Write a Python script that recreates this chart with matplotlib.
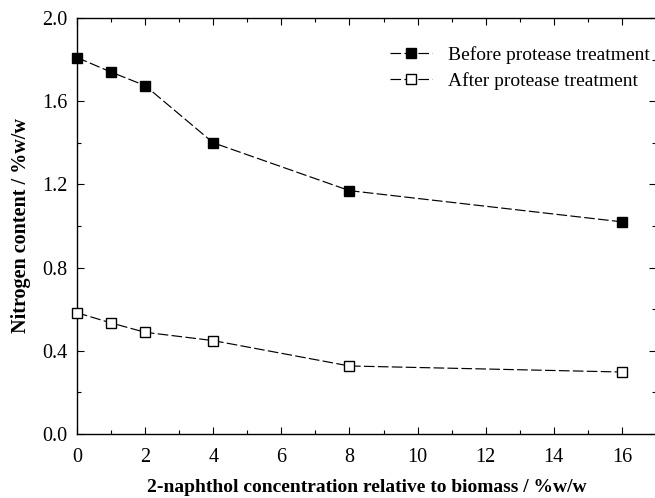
import matplotlib
matplotlib.use("Agg")
import matplotlib.pyplot as plt
from matplotlib.ticker import MultipleLocator

plt.rcParams['font.family'] = ['Liberation Serif', 'DejaVu Serif']

conc = [0, 1, 2, 4, 8, 16]
before = [1.81, 1.74, 1.675, 1.40, 1.17, 1.02]
after = [0.583, 0.534, 0.489, 0.449, 0.327, 0.298]
xticks = [0, 2, 4, 6, 8, 10, 12, 14, 16]
yticks = [0.0, 0.4, 0.8, 1.2, 1.6, 2.0]

fig = plt.figure(figsize=(6.55, 4.98), dpi=100)
ax = fig.add_axes([77/655, 1-434/498, (656-77)/655, (434-18)/498])

ax.plot(conc, before, linestyle=(0, (9, 2.8)), color='black', lw=0.85,
        marker='s', markersize=7.5, markerfacecolor='black', markeredgecolor='black',
        label='Before protease treatment', clip_on=False, zorder=3)
ax.plot(conc, after, linestyle=(0, (9, 2.8)), color='black', lw=0.85,
        marker='s', markersize=6.5, markerfacecolor='white', markeredgecolor='black',
        markeredgewidth=1.0, label='After protease treatment', clip_on=False, zorder=3)

ax.set_xlim(0, 17)
ax.set_ylim(0, 2.0)
ax.set_xticks(xticks)
ax.set_xticklabels([str(v) for v in xticks])
ax.set_yticks(yticks)
ax.set_yticklabels([f"{v:.1f}" for v in yticks])
ax.xaxis.set_minor_locator(MultipleLocator(1))
ax.yaxis.set_minor_locator(MultipleLocator(0.2))
ax.tick_params(which='both', direction='in', top=True, right=True, labelsize=14.5)
ax.tick_params(axis='x', which='both', pad=10)
ax.tick_params(axis='y', which='both', pad=7)
ax.tick_params(which='major', length=5, width=0.8)
ax.tick_params(which='minor', length=3, width=0.8)
for s in ax.spines.values():
    s.set_linewidth(1.0)

ax.set_xlabel('2-naphthol concentration relative to biomass / %w/w', fontsize=14, fontweight='bold', labelpad=9)
ax.set_ylabel('Nitrogen content / %w/w', fontsize=14.5, fontweight='bold', labelpad=8)

leg = ax.legend(loc='upper right', bbox_to_anchor=(1.013, 0.965), frameon=False, fontsize=14,
                handlelength=2.2, handletextpad=0.8, labelspacing=0.4, borderaxespad=0.3)

fig.savefig('out.png', dpi=100)
